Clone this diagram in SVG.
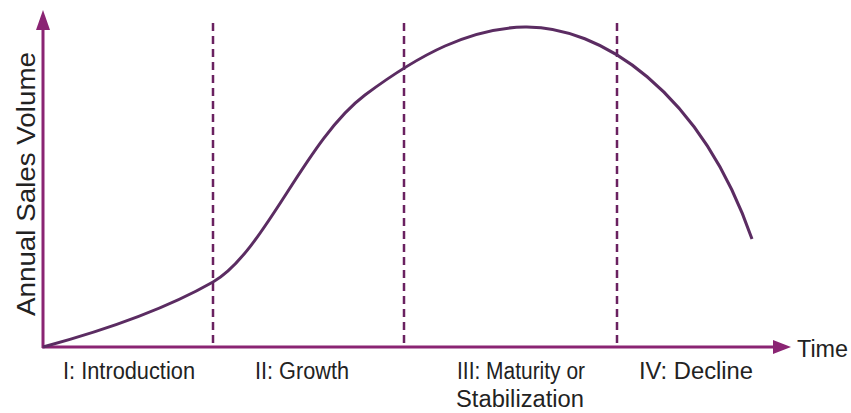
<svg xmlns="http://www.w3.org/2000/svg" width="851" height="413" viewBox="0 0 851 413">
<style>
.axis{stroke:#8a2473;stroke-width:3;fill:none}
.dash{stroke:#6a2160;stroke-width:2.5;stroke-dasharray:8 5;fill:none}
.curve{stroke:#5b2c62;stroke-width:3;fill:none}
.lbl{font-family:"Liberation Sans",Arial,sans-serif;font-size:23.5px;fill:#222}
</style>
<rect width="851" height="413" fill="#fff"/>
<g id="connectors">
<line class="axis" x1="43" y1="348" x2="43" y2="27"/>
<polygon points="43,10 36,30 50,30" fill="#8a2473"/>
<line class="axis" x1="42" y1="347" x2="775" y2="347"/>
<polygon points="791,347 773,340 773,354" fill="#8a2473"/>
<line class="dash" x1="213" y1="23" x2="213" y2="347"/>
<line class="dash" x1="404" y1="23" x2="404" y2="347"/>
<line class="dash" x1="617" y1="23" x2="617" y2="347"/>
<path class="curve" d="M43,347 Q150,318 213,282 C265,252 305,140 365,95 C420,54 470,28 525,27 C600,26 700,90 752,239"/>
</g>
<g id="ylabel"><text class="lbl" style="font-size:25px" transform="translate(35,184) rotate(-90)" text-anchor="middle" textLength="264" lengthAdjust="spacingAndGlyphs">Annual Sales Volume</text></g>
<g id="time"><text class="lbl" x="797" y="357" textLength="51" lengthAdjust="spacingAndGlyphs">Time</text></g>
<g id="stage1"><text class="lbl" x="63" y="379" textLength="132" lengthAdjust="spacingAndGlyphs">I: Introduction</text></g>
<g id="stage2"><text class="lbl" x="255" y="379" textLength="94" lengthAdjust="spacingAndGlyphs">II: Growth</text></g>
<g id="stage3"><text class="lbl" x="457" y="379" textLength="128" lengthAdjust="spacingAndGlyphs">III: Maturity or</text><text class="lbl" x="456" y="407" textLength="128" lengthAdjust="spacingAndGlyphs">Stabilization</text></g>
<g id="stage4"><text class="lbl" x="639" y="379" textLength="114" lengthAdjust="spacingAndGlyphs">IV: Decline</text></g>
</svg>
